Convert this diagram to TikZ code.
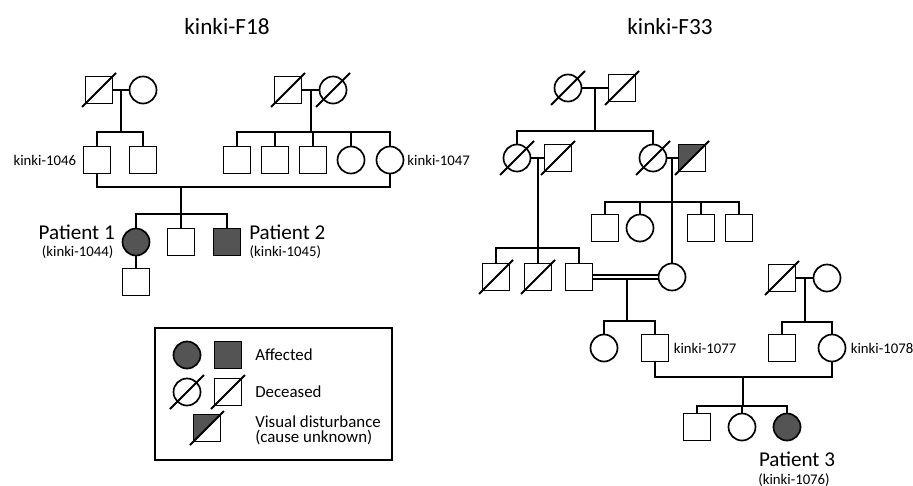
\documentclass[tikz,border=0pt]{standalone}
\usepackage{fontspec}
\setmainfont{Carlito}
\usetikzlibrary{calc,positioning}

\definecolor{affgray}{gray}{0.33}

\tikzset{
  male/.style={draw, rectangle, minimum size=0.675cm, inner sep=0pt, line width=1.2pt},
  female/.style={draw, circle, minimum size=0.675cm, inner sep=0pt, line width=1.2pt},
  affected/.style={fill=affgray},
  visual/.style={path picture={\fill[affgray] (path picture bounding box.south west) -- (path picture bounding box.north west) -- (path picture bounding box.north east) -- cycle;}},
  line/.style={line width=1.2pt},
  slash/.style={line width=1.3pt},
  idlabel/.style={font=\fontsize{10.5}{12}\selectfont, inner sep=1pt},
  patlabel/.style={font=\fontsize{15}{18}\selectfont, inner sep=0pt},
  titlelabel/.style={font=\fontsize{16.5}{19}\selectfont, inner sep=0pt},
  legendtext/.style={font=\fontsize{12}{10.5}\selectfont, inner sep=0pt, align=left},
}

% slash through a deceased person
\newcommand{\decslash}[1]{\draw[slash] ($(#1)+(-17,17)$) -- ($(#1)+(17,-17)$);}

\begin{document}
\begin{tikzpicture}[x=0.025cm, y=-0.025cm]
    \useasboundingbox (0,0) rectangle (913,486);

    % Titles
    \node[titlelabel] (f18) at (227,27) {kinki-F18};
    \node[titlelabel] (f33) at (670,27) {kinki-F33};

    % ---------------- kinki-F18 ----------------
    % Grandparents
    \node[male] (a1) at (99,90) {};
    \node[female] (a2) at (143,90) {};
    \node[male] (b1) at (288,90) {};
    \node[female] (b2) at (333,90) {};

    % Parents and their siblings
    \node[male] (k1046) at (97,160) {};
    \node[male] (a4) at (143,160) {};
    \node[male] (b3) at (237,160) {};
    \node[male] (b4) at (275,160) {};
    \node[male] (b5) at (313,160) {};
    \node[female] (b6) at (351,160) {};
    \node[female] (k1047) at (390,160) {};
    \node[idlabel, left=3.5pt of k1046] (l1046) {kinki-1046};
    \node[idlabel, right=1pt of k1047] (l1047) {kinki-1047};

    % Patients
    \node[female, affected] (p1) at (136,242) {};
    \node[male] (c2) at (181,242) {};
    \node[male, affected] (p2) at (227,242) {};
    \node[male] (p1c) at (136,282) {};
    \node[patlabel, anchor=east] (pat1) at (115,232) {Patient 1};
    \node[idlabel, anchor=east] (l1044) at (115,252) {(kinki-1044)};
    \node[patlabel, anchor=west] (pat2) at (249,232) {Patient 2};
    \node[idlabel, anchor=west] (l1045) at (248,252) {(kinki-1045)};

    % Lines
    \coordinate (ma) at (121,90);
    \coordinate (sa) at (121,132);
    \coordinate (mb) at (311,90);
    \coordinate (sb) at (311,132);
    \coordinate (mc) at (181,187);
    \coordinate (sc) at (181,214);
    \draw[line] (a1) -- (a2);
    \draw[line] (b1) -- (b2);
    \draw[line] (ma) -- (sa);
    \draw[line] (mb) -- (sb);
    \foreach \c in {k1046,a4} \draw[line] (sa) -| (\c.north);
    \foreach \c in {b3,b4,b5,b6,k1047} \draw[line] (sb) -| (\c.north);
    \draw[line] (k1046.south) |- (mc) -| (k1047.south);
    \draw[line] (mc) -- (sc);
    \foreach \c in {p1,c2,p2} \draw[line] (sc) -| (\c.north);
    \draw[line] (p1) -- (p1c);

    \foreach \n in {a1,b1,b2} {\decslash{\n}}

    % ---------------- kinki-F33 ----------------
    % Generation I
    \node[female] (c1) at (568,88) {};
    \node[male] (c3) at (622,88) {};

    % Generation II
    \node[female] (d1) at (517,158) {};
    \node[male] (d2) at (558,158) {};
    \node[female] (d3) at (653,158) {};
    \node[male, visual] (d4) at (692,158) {};

    % Generation III
    \node[male] (e1) at (496,277) {};
    \node[male] (e2) at (538,277) {};
    \node[male] (e3) at (579,277) {};
    \node[female] (e4) at (672,277) {};
    \node[male] (f1) at (605,228) {};
    \node[female] (f2) at (640,228) {};
    \node[male] (f3) at (701,228) {};
    \node[male] (f4) at (739,228) {};
    \node[male] (h1) at (782,278) {};
    \node[female] (h2) at (827,278) {};

    % Generation IV
    \node[female] (g1) at (604,348) {};
    \node[male] (k1077) at (655,348) {};
    \node[male] (h3) at (782,348) {};
    \node[female] (k1078) at (832,348) {};
    \node[idlabel, right=2pt of k1077] (l1077) {kinki-1077};
    \node[idlabel, right=2pt of k1078] (l1078) {kinki-1078};

    % Generation V
    \node[male] (i1) at (697,427) {};
    \node[female] (i2) at (742,427) {};
    \node[female, affected] (p3) at (787,427) {};
    \node[patlabel] (pat3) at (797,459) {Patient 3};
    \node[idlabel] (l1076) at (794,480) {(kinki-1076)};

    % Lines
    \coordinate (m1) at (595,88);
    \coordinate (s1) at (595,131);
    \coordinate (m2) at (538,158);
    \coordinate (s2) at (538,248);
    \coordinate (m3) at (672,158);
    \coordinate (s3) at (672,202);
    \coordinate (m4) at (627,279);
    \coordinate (s4) at (627,321);
    \coordinate (m5) at (805,278);
    \coordinate (s5) at (805,322);
    \coordinate (m6) at (743,377);
    \coordinate (s6) at (743,406);
    \draw[line] (c1) -- (c3);
    \draw[line] (m1) -- (s1);
    \foreach \c in {d1,d3} \draw[line] (s1) -| (\c.north);
    \draw[line] (d1) -- (d2);
    \draw[line] (d3) -- (d4);
    \draw[line] (m2) -- (s2);
    \foreach \c in {e1,e2,e3} \draw[line] (s2) -| (\c.north);
    \draw[line] (m3) -- (e4);
    \foreach \c in {f1,f2,f3,f4} \draw[line] (s3) -| (\c.north);
    \draw[line width=1pt, double, double distance=1.6pt] (e3) -- (e4);
    \draw[line] (m4) -- (s4);
    \foreach \c in {g1,k1077} \draw[line] (s4) -| (\c.north);
    \draw[line] (h1) -- (h2);
    \draw[line] (m5) -- (s5);
    \foreach \c in {h3,k1078} \draw[line] (s5) -| (\c.north);
    \draw[line] (k1077.south) |- (m6) -| (k1078.south);
    \draw[line] (m6) -- (s6);
    \foreach \c in {i1,i2,p3} \draw[line] (s6) -| (\c.north);

    \foreach \n in {c1,c3,d1,d2,d3,d4,e1,e2,h1} {\decslash{\n}}

    % ---------------- Legend ----------------
    \draw[line width=0.9pt] (155,328) rectangle (392,460);
    \node[female, affected] (lga) at (187,355) {};
    \node[male, affected] (lgb) at (228,355) {};
    \node[female] (lgc) at (187,392) {};
    \node[male] (lgd) at (228,392) {};
    \node[male, visual] (lge) at (207,428) {};
    \node[legendtext, anchor=west] (txa) at (255,355) {Affected};
    \node[legendtext, anchor=west] (txb) at (255,392) {Deceased};
    \node[legendtext, anchor=west] (txc) at (255,430) {Visual disturbance\\(cause unknown)};

    \foreach \n in {lgc,lgd,lge} {\decslash{\n}}
\end{tikzpicture}
\end{document}
